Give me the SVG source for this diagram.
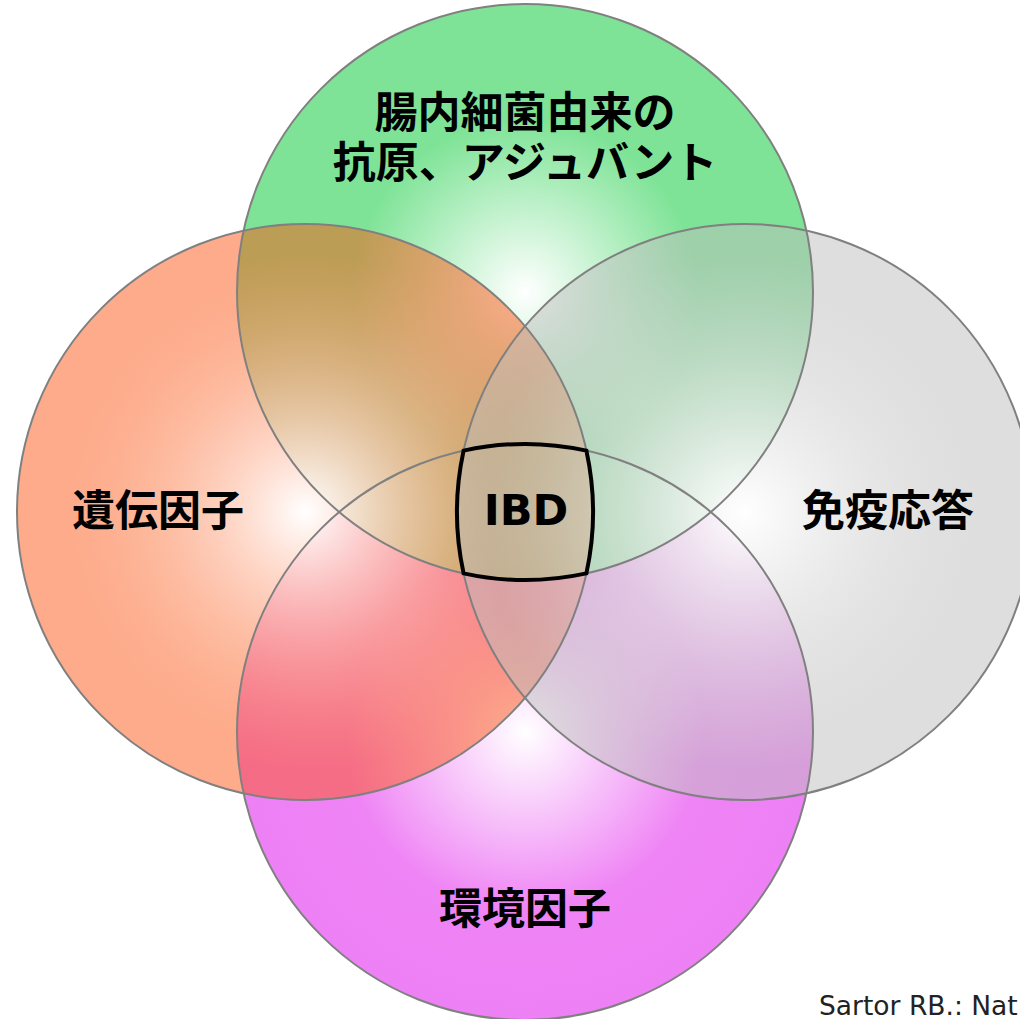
<svg xmlns="http://www.w3.org/2000/svg" width="1020" height="1019" viewBox="0 0 1020 1019">
  <defs>
    <radialGradient id="gGreen" cx="0.5" cy="0.5" r="0.5">
      <stop offset="0" stop-color="#ffffff"/>
      <stop offset="0.6" stop-color="#7ee396"/>
      <stop offset="1" stop-color="#7ee396"/>
    </radialGradient>
    <radialGradient id="gMagenta" cx="0.5" cy="0.5" r="0.5">
      <stop offset="0" stop-color="#ffffff"/>
      <stop offset="0.62" stop-color="#ef84f5"/>
      <stop offset="1" stop-color="#ee80f5"/>
    </radialGradient>
    <radialGradient id="gOrange" cx="0.5" cy="0.5" r="0.5">
      <stop offset="0" stop-color="#ffffff" stop-opacity="1"/>
      <stop offset="0.9" stop-color="#fb5715" stop-opacity="0.5"/>
      <stop offset="1" stop-color="#fb5715" stop-opacity="0.5"/>
    </radialGradient>
    <radialGradient id="gGrey" cx="0.5" cy="0.5" r="0.5">
      <stop offset="0" stop-color="#ffffff" stop-opacity="1"/>
      <stop offset="0.9" stop-color="#bdbdbd" stop-opacity="0.5"/>
      <stop offset="1" stop-color="#bdbdbd" stop-opacity="0.5"/>
    </radialGradient>
  </defs>
  <style>
    .outline { fill: none; stroke: #808080; stroke-width: 2; }
    .label { font-family: "Noto Sans CJK JP", "Noto Sans CJK SC", sans-serif; font-weight: 700; font-size: 43px; fill: #000; text-anchor: middle; }
    .ibd { font-family: "DejaVu Sans", Verdana, sans-serif; font-weight: 700; font-size: 43px; fill: #000; text-anchor: middle; }
    .cite { font-family: "DejaVu Sans", Verdana, sans-serif; font-size: 26.5px; fill: #222; }
  </style>
  <rect width="1020" height="1019" fill="#ffffff"/>

  <g id="node-environment">
    <circle cx="525" cy="732" r="288" fill="url(#gMagenta)"/>
    <text class="label" x="525" y="924">環境因子</text>
  </g>
  <g id="node-microbiota">
    <circle cx="525" cy="292" r="288" fill="url(#gGreen)"/>
    <text class="label"><tspan x="525" y="128">腸内細菌由来の</tspan><tspan x="525" y="178">抗原、アジュバント</tspan></text>
  </g>
  <g id="node-genetic">
    <circle cx="305" cy="512" r="288" fill="url(#gOrange)"/>
    <text class="label" x="158" y="526">遺伝因子</text>
  </g>
  <g id="node-immune">
    <circle cx="745" cy="512" r="288" fill="url(#gGrey)"/>
    <text class="label" x="888" y="526">免疫応答</text>
  </g>

  <g id="outlines">
    <circle class="outline" cx="525" cy="732" r="288"/>
    <circle class="outline" cx="525" cy="292" r="288"/>
    <circle class="outline" cx="305" cy="512" r="288"/>
    <circle class="outline" cx="745" cy="512" r="288"/>
  </g>

  <g id="node-ibd">
    <path d="M 463.6 450.6 A 288 288 0 0 1 586.4 450.6 A 288 288 0 0 1 586.4 573.4 A 288 288 0 0 1 463.6 573.4 A 288 288 0 0 1 463.6 450.6 Z" fill="none" stroke="#000" stroke-width="4"/>
    <text class="ibd" x="526" y="525">IBD</text>
  </g>

  <text class="cite" x="819" y="1015">Sartor RB.: Nat</text>
</svg>
